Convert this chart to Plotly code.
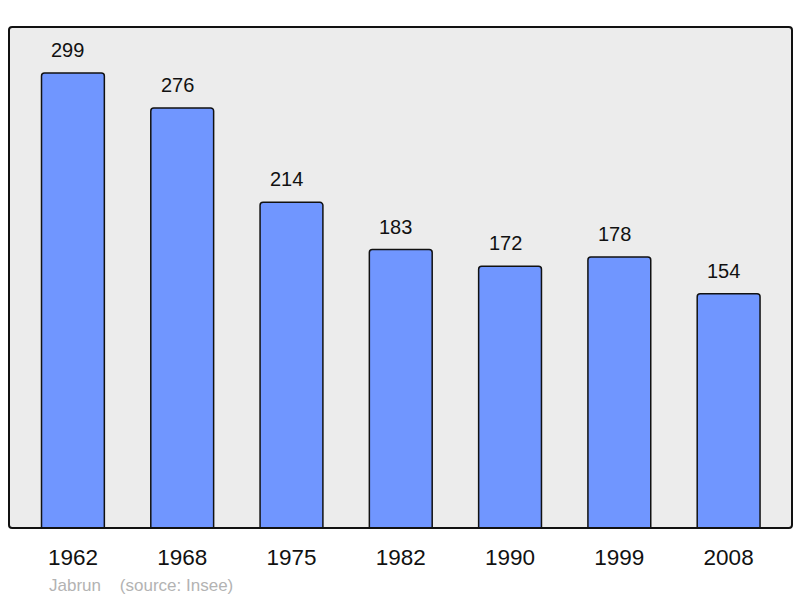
import plotly.graph_objects as go

years = ["1962", "1968", "1975", "1982", "1990", "1999", "2008"]
population = [299, 276, 214, 183, 172, 178, 154]
commune = "Jabrun"
source = "(source: Insee)"

fig = go.Figure()
fig.add_trace(go.Bar(
    x=list(range(len(years))), y=population,
    width=0.575,
    marker=dict(color="#7096ff", line=dict(color="#111111", width=1.5), cornerradius=3),
    hoverinfo="skip",
))

for i, v in enumerate(population):
    fig.add_annotation(x=i, y=v, text=str(v), showarrow=False, yanchor="bottom",
                       yshift=10, xshift=-5, font=dict(family="Liberation Sans, Arial", size=20, color="#111111"))

fig.add_annotation(xref="paper", yref="paper", x=0.048, y=-0.1138, xanchor="left", yanchor="middle",
                   text=commune + "&nbsp;&nbsp;&nbsp;&nbsp;" + source, showarrow=False,
                   font=dict(family="Liberation Sans, Arial", size=17, color="#b3b3b3"))

fig.add_shape(type="path", xref="paper", yref="paper",
              path="M 0.004 0 L 0.996 0 Q 1 0 1 0.006 L 1 0.994 Q 1 1 0.996 1 L 0.004 1 Q 0 1 0 0.994 L 0 0.006 Q 0 0 0.004 0 Z",
              line=dict(color="#111111", width=2), layer="above")

fig.update_layout(
    width=800, height=598,
    margin=dict(l=9, r=8, t=27, b=70),
    paper_bgcolor="white", plot_bgcolor="#ececec",
    showlegend=False,
    xaxis=dict(range=[-0.585, 6.58], tickmode="array", tickvals=list(range(len(years))), ticktext=years,
               showgrid=False, zeroline=False, ticks="outside", ticklen=9, tickcolor="rgba(0,0,0,0)",
               tickfont=dict(family="Liberation Sans, Arial", size=22.5, color="#111111")),
    yaxis=dict(range=[0, 329.2], visible=False, showgrid=False, zeroline=False),
)

fig.write_html("out.html", config={"displayModeBar": False},
               post_script="document.body.style.margin='0';document.body.style.overflow='hidden';")
